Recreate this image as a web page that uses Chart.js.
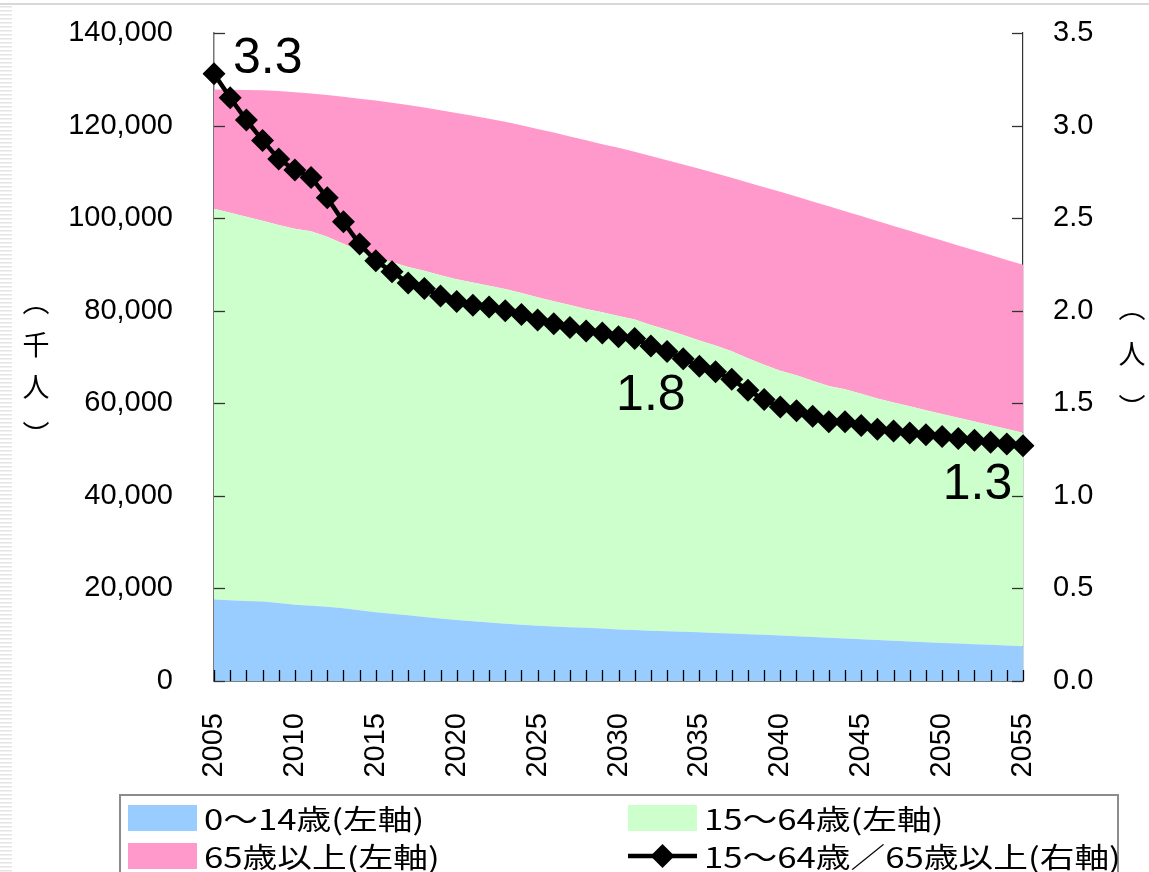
<!DOCTYPE html>
<html><head><meta charset="utf-8">
<script src="https://cdn.jsdelivr.net/npm/chart.js@4/dist/chart.umd.min.js"></script>
<style>html,body{margin:0;padding:0;background:#fff;}#wrap{width:1149px;height:872px;position:relative;}</style>
</head><body><div id="wrap"><canvas id="c" width="1149" height="872"></canvas></div>
<script>
const years = ['2005','2006','2007','2008','2009','2010','2011','2012','2013','2014','2015','2016','2017','2018','2019','2020','2021','2022','2023','2024','2025','2026','2027','2028','2029','2030','2031','2032','2033','2034','2035','2036','2037','2038','2039','2040','2041','2042','2043','2044','2045','2046','2047','2048','2049','2050','2051','2052','2053','2054','2055'];
const age0to14 = [17585,17435,17293,17176,16833,16479,16273,16033,15696,15288,14841,14526,14186,13846,13522,13201,12899,12626,12372,12148,11956,11792,11638,11484,11324,11150,11012,10871,10744,10629,10512,10382,10247,10114,9978,9833,9680,9525,9369,9208,9036,8865,8698,8527,8365,8214,8078,7945,7808,7667,7516];
const age15to64 = [84439,83741,83018,82262,81675,81256,80910,79944,78771,77601,76743,76024,75246,74766,74146,73621,73181,72781,72312,71706,70936,70276,69589,68894,68324,67684,67072,66067,65166,64120,63068,62120,61022,59621,58340,57208,56364,55361,54356,53837,53002,52161,51485,50813,50143,49465,48789,48114,47438,46772,46108];
const age65plus = [25744,26584,27399,28172,28962,29441,29747,30633,31763,32911,33846,34400,34998,35268,35652,35913,36050,36093,36156,36216,36378,36412,36433,36452,36342,36390,36256,36502,36610,36851,37099,37198,37441,37975,38382,38654,38606,38714,38825,38455,38405,38354,38137,37920,37702,37473,37243,37011,36774,36541,36306];
const ratio = [3.28,3.15,3.03,2.92,2.82,2.76,2.72,2.61,2.48,2.36,2.27,2.21,2.15,2.12,2.08,2.05,2.03,2.02,2.00,1.98,1.95,1.93,1.91,1.89,1.88,1.86,1.85,1.81,1.78,1.74,1.70,1.67,1.63,1.57,1.52,1.48,1.46,1.43,1.40,1.40,1.38,1.36,1.35,1.34,1.33,1.32,1.31,1.30,1.29,1.28,1.27];
const seriesNames = ['0～14歳(左軸)','15～64歳(左軸)','65歳以上(左軸)','15～64歳／65歳以上(右軸)'];
const callouts = [{text:'3.3', year:'2005'},{text:'1.8', year:'2032'},{text:'1.3', year:'2052'}];
const leftTitle = ['︵','千','人','︶'];
const rightTitle = ['︵','人','︶'];

const C_BLUE='#99CCFF', C_GREEN='#CCFFCC', C_PINK='#FF99CC';
const TICKFONT = {family:"'Liberation Sans', Arial, sans-serif", size:29};
const CJK = "'Noto Sans CJK JP', sans-serif";

const decor = {
  id:'decor',
  beforeDraw(chart){
    const ctx=chart.ctx;
    ctx.save();
    ctx.fillStyle='#fff'; ctx.fillRect(0,0,chart.width,chart.height);
    ctx.fillStyle='#d8d8d8'; ctx.fillRect(0,3,chart.width,2);
    ctx.fillStyle='#e4e4e4';
    for(let y=6;y<chart.height;y+=4){ ctx.fillRect(0,y,12,1.5); }
    ctx.restore();
  },
  afterDatasetsDraw(chart){
    const ctx=chart.ctx, a=chart.chartArea, xs=chart.scales.x, ys=chart.scales.y, y1=chart.scales.y1;
    ctx.save();
    ctx.strokeStyle='#000'; ctx.lineWidth=1.3;
    xs.ticks.forEach((t,i)=>{ const px=Math.round(xs.getPixelForTick(i))+0.5; ctx.beginPath(); ctx.moveTo(px,a.bottom); ctx.lineTo(px,a.bottom-11); ctx.stroke(); });
    ctx.strokeStyle='#333';
    ys.ticks.forEach((t,i)=>{ const py=Math.round(ys.getPixelForTick(i))+0.5; ctx.beginPath(); ctx.moveTo(a.left,py); ctx.lineTo(a.left+11,py); ctx.stroke(); });
    y1.ticks.forEach((t,i)=>{ const py=Math.round(y1.getPixelForTick(i))+0.5; ctx.beginPath(); ctx.moveTo(a.right,py); ctx.lineTo(a.right-11,py); ctx.stroke(); });
    ctx.restore();
  },
  afterDraw(chart){
    const ctx=chart.ctx, xs=chart.scales.x, y1=chart.scales.y1, a=chart.chartArea;
    ctx.save();
    ctx.fillStyle='#000';
    ctx.font="50px 'Liberation Sans', Arial, sans-serif";
    ctx.textBaseline='middle';
    callouts.forEach((c,k)=>{
      const i=years.indexOf(c.year);
      const px=xs.getPixelForValue(i), py=y1.getPixelForValue(ratio[i]);
      if(k===0){ ctx.textAlign='left'; ctx.fillText(c.text, px+19, py-15); }
      else if(k===1){ ctx.textAlign='center'; ctx.fillText(c.text, px, py+50); }
      else { ctx.textAlign='center'; ctx.fillText(c.text, px+3, py+45); }
    });
    // vertical axis titles
    ctx.font="27px "+CJK; ctx.textAlign='center';
    const midL=(a.top+a.bottom)/2;
    const lOff=[-55,-12,30,78];
    leftTitle.forEach((ch,k)=>ctx.fillText(ch, 36, midL+lOff[k]));
    const rOff=[-49,-3,51];
    rightTitle.forEach((ch,k)=>ctx.fillText(ch, 1132, midL+rOff[k]));
    // legend
    ctx.strokeStyle='#8c8c8c'; ctx.lineWidth=2;
    ctx.strokeRect(120,795,998,100);
    ctx.font="28px "+CJK; ctx.textAlign='left'; ctx.textBaseline='middle';
    const items=[
      {x:128,y:818,type:'box',color:C_BLUE,text:seriesNames[0]},
      {x:628,y:818,type:'box',color:C_GREEN,text:seriesNames[1]},
      {x:128,y:856,type:'box',color:C_PINK,text:seriesNames[2]},
      {x:628,y:856,type:'line',color:'#000',text:seriesNames[3]}
    ];
    items.forEach(it=>{
      if(it.type==='box'){ ctx.fillStyle=it.color; ctx.fillRect(it.x,it.y-13,69,26); }
      else {
        ctx.strokeStyle='#000'; ctx.lineWidth=4.5; ctx.beginPath(); ctx.moveTo(it.x,it.y); ctx.lineTo(it.x+69,it.y); ctx.stroke();
        ctx.fillStyle='#000'; ctx.beginPath(); const cx=it.x+34.5,r=12; ctx.moveTo(cx,it.y-r); ctx.lineTo(cx+r,it.y); ctx.lineTo(cx,it.y+r); ctx.lineTo(cx-r,it.y); ctx.closePath(); ctx.fill();
      }
      ctx.fillStyle='#000';
      ctx.save(); ctx.translate(it.x+76, it.y+1); ctx.scale(1.24,1); ctx.fillText(it.text, 0, 0); ctx.restore();
    });
    ctx.restore();
  }
};

new Chart(document.getElementById('c'), {
  type:'line',
  data:{
    labels:years,
    datasets:[
      {label:seriesNames[0], data:age0to14, yAxisID:'y', stack:'pop', backgroundColor:C_BLUE, borderWidth:0, pointRadius:0, fill:'origin', order:1},
      {label:seriesNames[1], data:age15to64, yAxisID:'y', stack:'pop', backgroundColor:C_GREEN, borderWidth:0, pointRadius:0, fill:'-1', order:1},
      {label:seriesNames[2], data:age65plus, yAxisID:'y', stack:'pop', backgroundColor:C_PINK, borderWidth:0, pointRadius:0, fill:'-1', order:1},
      {label:seriesNames[3], data:ratio, yAxisID:'y1', stack:'ratio', borderColor:'#000', backgroundColor:'#000', borderWidth:4.5, pointStyle:'rectRot', pointRadius:11.5, pointBorderWidth:0, fill:false, order:0}
    ]
  },
  options:{
    responsive:false, animation:false, devicePixelRatio:1,
    layout:{padding:{top:33,left:0,right:0,bottom:0}},
    plugins:{legend:{display:false}, tooltip:{enabled:false}},
    scales:{
      x:{
        offset:false,
        grid:{display:true, drawOnChartArea:false, drawTicks:true, tickLength:32, tickColor:'rgba(0,0,0,0)'},
        border:{display:true,color:'#000',width:1.5},
        ticks:{autoSkip:false, maxRotation:90, minRotation:90, padding:0, color:'#000', font:TICKFONT,
          callback(v){ const l=this.getLabelForValue(v); return (+l)%5===0 ? l : ''; }},
        afterFit(s){ s.height=191; }
      },
      y:{
        position:'left', stacked:true, min:0, max:140000,
        grid:{display:true, drawOnChartArea:false, drawTicks:true, tickLength:41, tickColor:'rgba(0,0,0,0)'},
        border:{display:true,color:'#777',width:1.5},
        ticks:{stepSize:20000, padding:0, color:'#000', font:TICKFONT, callback:v=>v.toLocaleString('en-US')},
        afterFit(s){ s.width=214; }
      },
      y1:{
        position:'right', stacked:false, min:0, max:3.5,
        grid:{display:true, drawOnChartArea:false, drawTicks:true, tickLength:30, tickColor:'rgba(0,0,0,0)'},
        border:{display:true,color:'#333',width:1.2},
        ticks:{stepSize:0.5, padding:0, color:'#000', font:TICKFONT, callback:v=>Number(v).toFixed(1)},
        afterFit(s){ s.width=126; }
      }
    }
  },
  plugins:[decor]
});
</script></body></html>
